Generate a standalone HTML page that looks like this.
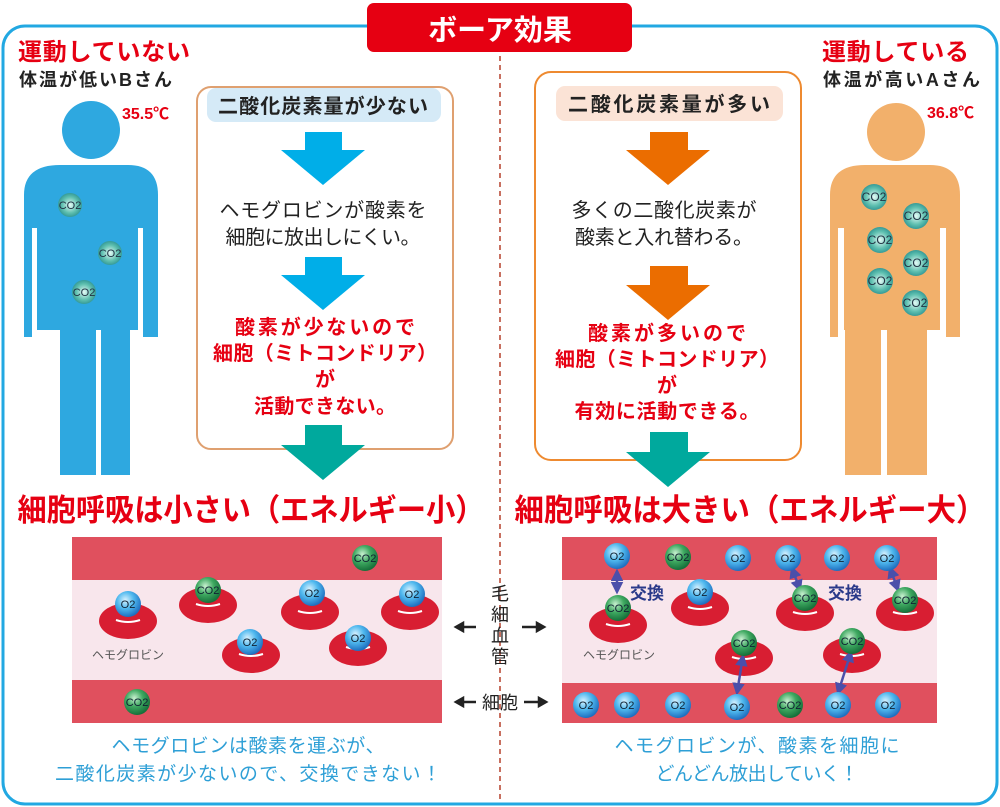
<!DOCTYPE html>
<html><head><meta charset="utf-8"><style>
html,body{margin:0;padding:0;background:#fff;}
svg{display:block;font-family:"Liberation Sans","Noto Sans CJK JP",sans-serif;}
.b{font-weight:bold;}
</style></head><body>
<svg width="1000" height="807" viewBox="0 0 1000 807" xmlns="http://www.w3.org/2000/svg">
<defs>
<radialGradient id="gO" cx="40%" cy="35%" r="65%"><stop offset="0" stop-color="#d8f2ff"/><stop offset="0.5" stop-color="#4fb8ee"/><stop offset="1" stop-color="#1f6fc0"/></radialGradient>
<radialGradient id="gC" cx="40%" cy="35%" r="65%"><stop offset="0" stop-color="#c8f0d0"/><stop offset="0.5" stop-color="#3ea860"/><stop offset="1" stop-color="#16703a"/></radialGradient>
<radialGradient id="gB" cx="50%" cy="50%" r="55%"><stop offset="0" stop-color="#e6fbf7"/><stop offset="0.6" stop-color="#5fc0b0"/><stop offset="1" stop-color="#2a9090"/></radialGradient>
<marker id="ah" viewBox="0 0 10 10" refX="8" refY="5" markerWidth="5" markerHeight="5" orient="auto-start-reverse"><path d="M0,0L10,5L0,10z" fill="#4b4faa"/></marker>
</defs>
<rect x="3" y="26" width="994" height="778" rx="22" fill="none" stroke="#22a8e2" stroke-width="3"/>
<rect x="367" y="3" width="265" height="49" rx="7" fill="#e60012"/>
<text x="500" y="40" text-anchor="middle" font-size="29" fill="#fff" class="b">ボーア効果</text>
<line x1="500" y1="56" x2="500" y2="800" stroke="#c87060" stroke-width="2" stroke-dasharray="5,4"/>

<text x="18" y="60" font-size="24" fill="#e60012" class="b" textLength="172">運動していない</text>
<text x="19" y="86" font-size="18" fill="#222" class="b" textLength="153">体温が低いBさん</text>
<text x="122" y="119" font-size="16" fill="#e60012" class="b">35.5℃</text>
<g fill="#2ea8e0">
<circle cx="91" cy="130" r="29"/>
<path d="M60,165 H128 Q158,165 158,195 V337 H143 V228 H138 V330 H37 V228 H32 V337 H24 V195 Q24,165 60,165Z"/>
<rect x="60" y="320" width="36" height="155"/>
<rect x="101" y="320" width="29" height="155"/>
</g>
<g font-size="11" text-anchor="middle" fill="#234">
<circle cx="70" cy="205" r="12" fill="url(#gB)"/><text x="70" y="209">CO2</text>
<circle cx="110" cy="253" r="12" fill="url(#gB)"/><text x="110" y="257">CO2</text>
<circle cx="84" cy="292" r="12" fill="url(#gB)"/><text x="84" y="296">CO2</text>
</g>

<rect x="197" y="87" width="256" height="362" rx="14" fill="none" stroke="#dfa070" stroke-width="2"/>
<rect x="207" y="88" width="234" height="34" rx="9" fill="#d5eaf7"/>
<text x="323" y="113" text-anchor="middle" font-size="20" fill="#222" class="b" textLength="210">二酸化炭素量が少ない</text>
<path d="M305,132 H342 V150 H365 L323,185 L281,150 H305Z" fill="#00aee8"/>
<text x="323" y="217" text-anchor="middle" font-size="20" fill="#222" textLength="207">ヘモグロビンが酸素を</text>
<text x="323" y="244" text-anchor="middle" font-size="20" fill="#222" textLength="195">細胞に放出しにくい。</text>
<path d="M305,257 H342 V275 H365 L323,310 L281,275 H305Z" fill="#00aee8"/>
<g text-anchor="middle" font-size="20" fill="#e60012" class="b">
<text x="325" y="334" textLength="180">酸素が少ないので</text>
<text x="325" y="360" textLength="224">細胞（ミトコンドリア）</text>
<text x="325" y="386">が</text>
<text x="325" y="413" textLength="142">活動できない。</text>
</g>
<path d="M305,425 H342 V445 H365 L323,480 L281,445 H305Z" fill="#00a99d"/>
<text x="251" y="521" text-anchor="middle" font-size="31" fill="#e60012" class="b" textLength="467" lengthAdjust="spacingAndGlyphs">細胞呼吸は小さい（エネルギー小）</text>

<text x="822" y="60" font-size="24" fill="#e60012" class="b" textLength="147">運動している</text>
<text x="823" y="86" font-size="18" fill="#222" class="b" textLength="157">体温が高いAさん</text>
<text x="927" y="118" font-size="16" fill="#e60012" class="b">36.8℃</text>
<g fill="#f2b06b">
<circle cx="896" cy="132" r="29"/>
<path d="M865,165 H930 Q960,165 960,195 V337 H946 V228 H940 V330 H844 V228 H838 V337 H830 V195 Q830,165 865,165Z"/>
<rect x="845" y="320" width="36" height="155"/>
<rect x="887" y="320" width="40" height="155"/>
</g>
<g font-size="12" text-anchor="middle" fill="#234">
<circle cx="874" cy="197" r="13" fill="url(#gB)"/><text x="874" y="201">CO2</text>
<circle cx="916" cy="216" r="13" fill="url(#gB)"/><text x="916" y="220">CO2</text>
<circle cx="880" cy="240" r="13" fill="url(#gB)"/><text x="880" y="244">CO2</text>
<circle cx="916" cy="263" r="13" fill="url(#gB)"/><text x="916" y="267">CO2</text>
<circle cx="880" cy="281" r="13" fill="url(#gB)"/><text x="880" y="285">CO2</text>
<circle cx="915" cy="303" r="13" fill="url(#gB)"/><text x="915" y="307">CO2</text>
</g>

<rect x="535" y="72" width="266" height="388" rx="16" fill="none" stroke="#ee8a30" stroke-width="2"/>
<rect x="556" y="86" width="227" height="35" rx="9" fill="#fbe3d6"/>
<text x="669" y="111" text-anchor="middle" font-size="20" fill="#222" class="b" textLength="202">二酸化炭素量が多い</text>
<path d="M650,132 H688 V150 H710 L668,185 L626,150 H650Z" fill="#eb6d00"/>
<text x="664" y="217" text-anchor="middle" font-size="20" fill="#222" textLength="185">多くの二酸化炭素が</text>
<text x="664" y="244" text-anchor="middle" font-size="20" fill="#222" textLength="178">酸素と入れ替わる。</text>
<path d="M650,266 H688 V285 H710 L668,320 L626,285 H650Z" fill="#eb6d00"/>
<g text-anchor="middle" font-size="20" fill="#e60012" class="b">
<text x="667" y="340" textLength="158">酸素が多いので</text>
<text x="667" y="366" textLength="224">細胞（ミトコンドリア）</text>
<text x="667" y="392">が</text>
<text x="667" y="418" textLength="185">有効に活動できる。</text>
</g>
<path d="M650,432 H688 V452 H710 L668,487 L626,452 H650Z" fill="#00a99d"/>
<text x="750" y="521" text-anchor="middle" font-size="31" fill="#e60012" class="b" textLength="471" lengthAdjust="spacingAndGlyphs">細胞呼吸は大きい（エネルギー大）</text>

<rect x="72" y="537" width="370" height="186" fill="#f8e6ec"/>
<rect x="72" y="537" width="370" height="43" fill="#e0505e"/>
<rect x="72" y="680" width="370" height="43" fill="#e0505e"/>
<rect x="562" y="537" width="375" height="186" fill="#f8e6ec"/>
<rect x="562" y="537" width="375" height="43" fill="#e0505e"/>
<rect x="562" y="683" width="375" height="40" fill="#e0505e"/>

<g font-size="18" fill="#222" text-anchor="middle">
<text x="500" y="600">毛</text><text x="500" y="621">細</text><text x="500" y="642">血</text><text x="500" y="663">管</text>
<text x="500" y="709">細胞</text>
</g>
<g stroke="#222" stroke-width="2.5" fill="#222">
<line x1="460" y1="627" x2="476" y2="627"/><path d="M456,627 l7,-4 v8z"/>
<line x1="522" y1="627" x2="538" y2="627"/><path d="M544,627 l-7,-4 v8z"/>
<line x1="460" y1="702" x2="476" y2="702"/><path d="M456,702 l7,-4 v8z"/>
<line x1="524" y1="702" x2="540" y2="702"/><path d="M546,702 l-7,-4 v8z"/>
</g>

<g fill="#d81e32">
<ellipse cx="128" cy="621" rx="29" ry="18"/><ellipse cx="208" cy="605" rx="29" ry="18"/>
<ellipse cx="310" cy="612" rx="29" ry="18"/><ellipse cx="410" cy="612" rx="29" ry="18"/>
<ellipse cx="251" cy="655" rx="29" ry="18"/><ellipse cx="358" cy="648" rx="29" ry="18"/>
<ellipse cx="618" cy="625" rx="29" ry="18"/><ellipse cx="700" cy="608" rx="29" ry="18"/>
<ellipse cx="805" cy="613" rx="29" ry="18"/><ellipse cx="905" cy="613" rx="29" ry="18"/>
<ellipse cx="744" cy="658" rx="29" ry="18"/><ellipse cx="852" cy="655" rx="29" ry="18"/>
</g>
<g fill="none" stroke="#fff" stroke-width="2">
<path d="M116,620 Q128,624 140,620"/><path d="M196,604 Q208,608 220,604"/><path d="M298,611 Q310,615 322,611"/><path d="M398,611 Q410,615 422,611"/><path d="M239,654 Q251,658 263,654"/><path d="M346,647 Q358,651 370,647"/>
<path d="M606,624 Q618,628 630,624"/><path d="M688,607 Q700,611 712,607"/><path d="M793,612 Q805,616 817,612"/><path d="M893,612 Q905,616 917,612"/><path d="M732,657 Q744,661 756,657"/><path d="M840,654 Q852,658 864,654"/>
</g>
<g font-size="12" fill="#555" text-anchor="middle">
<text x="128" y="659">ヘモグロビン</text><text x="619" y="659">ヘモグロビン</text>
</g>
<g font-size="17" fill="#2a3a8a" class="b"><text x="630" y="599">交換</text><text x="828" y="599">交換</text></g>

<g stroke="#4b4faa" stroke-width="2.5" marker-start="url(#ah)" marker-end="url(#ah)">
<line x1="617" y1="571" x2="617" y2="592"/><line x1="792" y1="568" x2="800" y2="590"/>
<line x1="890" y1="568" x2="898" y2="590"/><line x1="743" y1="656" x2="737" y2="693"/>
<line x1="851" y1="652" x2="838" y2="693"/>
</g>

<g font-size="11" text-anchor="middle" fill="#123">
<circle cx="365" cy="558" r="13" fill="url(#gC)"/><text x="365" y="562">CO2</text>
<circle cx="128" cy="604" r="13" fill="url(#gO)"/><text x="128" y="608">O2</text>
<circle cx="208" cy="590" r="13" fill="url(#gC)"/><text x="208" y="594">CO2</text>
<circle cx="312" cy="593" r="13" fill="url(#gO)"/><text x="312" y="597">O2</text>
<circle cx="412" cy="594" r="13" fill="url(#gO)"/><text x="412" y="598">O2</text>
<circle cx="250" cy="642" r="13" fill="url(#gO)"/><text x="250" y="646">O2</text>
<circle cx="358" cy="638" r="13" fill="url(#gO)"/><text x="358" y="642">O2</text>
<circle cx="137" cy="702" r="13" fill="url(#gC)"/><text x="137" y="706">CO2</text>

<circle cx="617" cy="556" r="13" fill="url(#gO)"/><text x="617" y="560">O2</text>
<circle cx="678" cy="557" r="13" fill="url(#gC)"/><text x="678" y="561">CO2</text>
<circle cx="738" cy="558" r="13" fill="url(#gO)"/><text x="738" y="562">O2</text>
<circle cx="788" cy="558" r="13" fill="url(#gO)"/><text x="788" y="562">O2</text>
<circle cx="837" cy="558" r="13" fill="url(#gO)"/><text x="837" y="562">O2</text>
<circle cx="887" cy="558" r="13" fill="url(#gO)"/><text x="887" y="562">O2</text>
<circle cx="618" cy="608" r="13" fill="url(#gC)"/><text x="618" y="612">CO2</text>
<circle cx="700" cy="592" r="13" fill="url(#gO)"/><text x="700" y="596">O2</text>
<circle cx="805" cy="598" r="13" fill="url(#gC)"/><text x="805" y="602">CO2</text>
<circle cx="905" cy="600" r="13" fill="url(#gC)"/><text x="905" y="604">CO2</text>
<circle cx="744" cy="643" r="13" fill="url(#gC)"/><text x="744" y="647">CO2</text>
<circle cx="852" cy="641" r="13" fill="url(#gC)"/><text x="852" y="645">CO2</text>
<circle cx="586" cy="705" r="13" fill="url(#gO)"/><text x="586" y="709">O2</text>
<circle cx="627" cy="705" r="13" fill="url(#gO)"/><text x="627" y="709">O2</text>
<circle cx="678" cy="705" r="13" fill="url(#gO)"/><text x="678" y="709">O2</text>
<circle cx="737" cy="707" r="13" fill="url(#gO)"/><text x="737" y="711">O2</text>
<circle cx="790" cy="705" r="13" fill="url(#gC)"/><text x="790" y="709">CO2</text>
<circle cx="838" cy="705" r="13" fill="url(#gO)"/><text x="838" y="709">O2</text>
<circle cx="888" cy="705" r="13" fill="url(#gO)"/><text x="888" y="709">O2</text>
</g>

<g font-size="19" fill="#2e9fd6" text-anchor="middle">
<text x="248" y="752" textLength="273">ヘモグロビンは酸素を運ぶが、</text>
<text x="248" y="780" textLength="386">二酸化炭素が少ないので、交換できない！</text>
<text x="757" y="752" textLength="285">ヘモグロビンが、酸素を細胞に</text>
<text x="757" y="780" textLength="203">どんどん放出していく！</text>
</g>
</svg>
</body></html>
